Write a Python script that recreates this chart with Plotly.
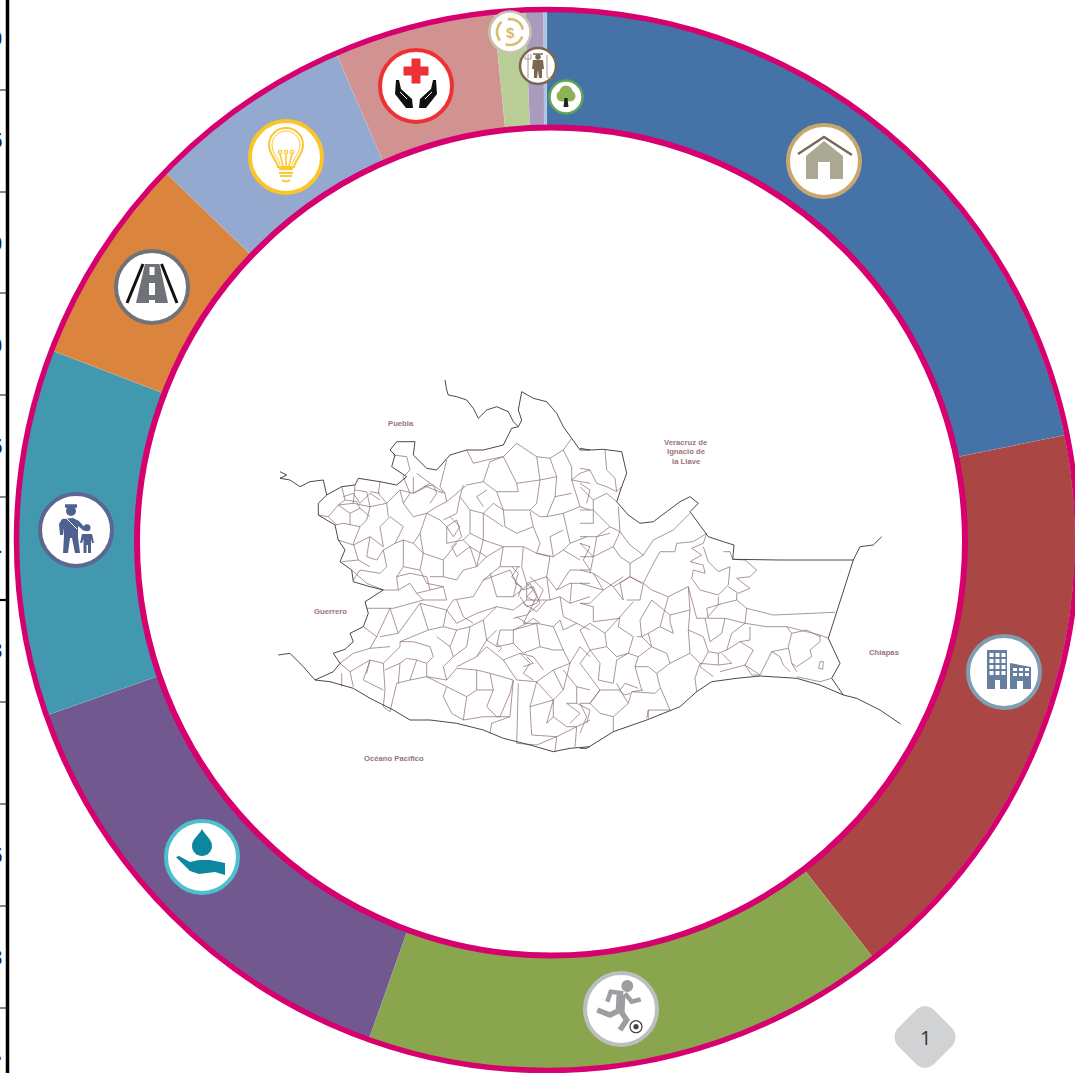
import re
import numpy as np
import plotly.graph_objects as go

W, H = 1075, 1073

# ---- donut data (share of the total)
categories = ["Vivienda", "Urbanización", "Deporte", "Agua", "Seguridad", "Caminos",
              "Electrificación", "Salud", "Economía", "Agricultura", "Medio ambiente"]
shares = [21.8, 17.6, 16.0, 14.2, 11.2, 6.4, 6.3, 4.9, 0.95, 0.55, 0.1]
colors = ["#4572A7", "#AA4643", "#89A54E", "#71588F", "#4198AF", "#DB843D",
          "#93A9CF", "#D19392", "#B9CD96", "#A99BBD", "#A9C4DE"]

# ---- left clipped axis
axis_tick_y = [90, 192, 293, 395, 497, 600, 702, 804, 906, 1008]
axis_label_y = [38, 140, 243, 345, 446, 548, 650, 855, 957, 1052]
axis_labels = ["0", "5", "0", "0", "5", "4", "3", "5", "3", "."]

# ---- map labels
map_label_text = ["Puebla", "Veracruz de", "Ignacio de", "la Llave", "Guerrero", "Chiapas", "Océano Pacífico"]
map_label_x = [401, 686, 686, 686, 330, 884, 394]
map_label_y = [423, 442, 451, 461, 611, 652, 758]

# ---- map outline (west half and east half)
west_border = [
 [(525,30),(530,60),(535,75),(560,80),(590,90),(610,115),(625,145),(650,120),(680,110),(715,125),(730,155),(745,170),(755,150),(745,120),(755,65),(790,85),(830,95),(860,130),(880,170),(905,205),(930,240),(960,240)],
 [(960,1130),(900,1135),(850,1145),(780,1125),(700,1105),(640,1080),(560,1060),(480,1050),(420,1050),(370,1020),(300,985),(250,955),(180,935),(135,930),(100,890),(60,850),(25,855)],
 [(135,930),(190,905),(210,880),(190,850),(225,838),(250,815),(240,790),(280,770),(295,730),(285,695),(340,660),(300,650),(250,635),(245,600),(210,575),(225,540),(205,510),(195,465),(145,435),(145,400),(170,375),(215,350),(255,345),(265,325),(330,335),(380,345),(410,320),(365,290),(375,255),(360,240),(380,215),(435,215),(430,255),(470,295),(500,300),(540,255),(590,240),(640,240),(700,225),(725,175),(745,170)],
 [(170,375),(160,330),(120,335),(90,350),(60,330),(30,325),(50,315),(30,305)],
]
east_border = [
 [(0,235),(30,240),(70,238),(125,245),(140,310),(125,350),(110,395),(145,435),(180,460),(220,455),(260,425),(300,395),(330,380),(355,400),(330,425),(385,500),(430,515),(462,525),(458,568),(600,570),(820,570),(840,530),(880,525),(905,500)],
 [(820,570),(745,805),(780,880),(755,925),(790,975),(830,985),(900,1020),(962,1062)],
 [(790,975),(720,945),(650,925),(540,918),(470,925),(395,935),(350,965),(300,1010),(200,1050),(100,1085),(60,1110),(20,1135),(0,1135)],
]
west_cells = [
 [(145,435),(175,440),(205,405),(250,400),(300,410),(350,400),(390,360),(430,370),(480,340),(525,370),(530,395),(590,345),(640,335),(680,365),(700,420),(780,420),(810,440)],
 [(400,470),(375,520),(340,540),(350,590),(330,610),(270,600),(250,630)],
 [(270,470),(250,520),(265,570)],
 [(205,510),(250,525),(300,500),(340,530)],
 [(375,520),(400,510),(430,520),(450,490),(470,430),(500,410),(530,395)],
 [(470,430),(510,450),(530,470),(530,520),(580,510),(600,490),(600,420),(570,380),(580,345)],
 [(600,420),(640,430),(670,400),(700,420)],
 [(700,420),(705,470),(740,490),(790,470),(780,425)],
 [(790,470),(810,520),(800,550),(850,560),(880,540),(900,520),(950,500)],
 [(860,320),(855,380),(830,440),(880,430),(930,410),(905,330),(930,310),(960,300)],
 [(590,240),(610,280),(650,270),(700,260),(740,220),(800,260),(840,265),(880,240),(905,205)],
 [(800,260),(810,330),(800,400),(780,420)],
 [(840,265),(860,320),(810,330),(740,340),(700,260),(660,275),(640,335)],
 [(740,340),(745,365),(680,365)],
 [(530,270),(520,310),(510,350),(525,370)],
 [(400,320),(420,370),(400,400),(430,440),(470,430)],
 [(300,410),(290,450),(270,470),(220,460),(195,465)],
 [(400,470),(360,440),(330,470),(340,530)],
 [(400,510),(400,590),(380,620),(385,660),(340,660)],
 [(450,490),(460,550),(450,600),(470,640),(520,650),(530,690),(460,690),(370,715),(290,715)],
 [(460,550),(520,570),(520,620),(560,630),(580,600),(620,590),(600,530)],
 [(580,510),(600,530),(650,560),(700,530),(760,530),(800,550),(840,560),(830,620),(860,660),(900,640),(960,640)],
 [(700,530),(690,590),(640,630),(610,680),(550,690),(530,720),(560,760),(620,730),(680,710)],
 [(760,530),(755,590),(770,640),(830,620)],
 [(650,560),(620,590)],
 [(360,715),(385,790),(450,700),(475,780),(390,815),(430,815),(480,830),(490,860),(470,880),(470,920),(530,930),(520,890),(550,860),(540,830),(500,800)],
 [(475,780),(520,770),(530,720)],
 [(280,770),(320,800),(300,835),(250,850),(210,880),(240,905),(300,870),(340,880),(390,830),(390,815)],
 [(300,835),(360,830)],
 [(340,880),(345,960),(340,1010),(360,1025),(380,940),(420,930),(470,920)],
 [(420,930),(440,870),(410,865),(390,880),(385,940)],
 [(215,910),(215,950)],
 [(470,920),(530,950),(520,980),(545,1030),(580,1050),(640,1040),(690,1040),(720,970),(730,930),(660,910),(620,900),(560,895),(530,930)],
 [(590,980),(620,960),(670,960),(650,1010),(680,1040)],
 [(560,890),(620,860),(650,830),(700,870),(720,900)],
 [(550,860),(590,830),(600,770),(640,750),(680,710)],
 [(600,770),(560,780),(540,830)],
 [(640,750),(650,810),(680,830),(730,820),(730,780),(800,760),(850,770),(870,750),(880,780),(920,760),(960,780)],
 [(680,710),(730,720),(770,690),(840,690),(870,680),(880,740)],
 [(720,900),(740,930),(800,935),(850,900),(900,880),(930,830),(960,860)],
 [(850,770),(880,840),(900,880)],
 [(730,930),(720,1040),(665,1060),(660,1090)],
 [(745,940),(740,1120),(800,1125),(860,1100),(855,1145)],
 [(800,935),(780,1010),(785,1095),(860,1100),(920,1070),(960,1050)],
 [(850,990),(850,1040),(890,1070),(920,1070),(915,1130)],
 [(880,960),(850,990),(830,1060)],
 [(920,1000),(960,1020),(950,1060)],
 [(880,900),(920,950),(960,960)],
 [(720,600),(740,640),(730,680),(780,640),(800,680),(780,720),(760,760),(800,760)],
 [(745,590),(725,620),(760,660),(790,650),(810,700),(770,735),(730,745)],
 [(750,680),(770,710),(800,700),(820,660),(780,620)],
 [(530,470),(560,450),(575,500),(545,530),(560,560)],
 [(930,520),(960,530),(940,570),(960,600),(900,600)],
 [(220,380),(250,370),(270,400),(300,370),(330,390)],
 [(480,400),(500,370),(490,345),(460,350)],
 [(650,360),(620,380),(640,410)],
 [(420,610),(470,620),(480,660),(440,670),(420,640)],
 [(560,690),(580,740),(610,760)],
 [(650,810),(620,860)],
 [(700,870),(750,850),(790,860),(820,900)],
 [(780,880),(760,910),(790,930)],
 [(890,1000),(930,1030),(900,1060)],
 [(215,350),(225,390),(205,405)],
 [(255,345),(250,400)],
 [(255,360),(290,365),(300,410)],
 [(330,335),(325,370),(350,400)],
 [(300,365),(330,370)],
 [(225,390),(260,395),(270,415),(240,430),(205,405)],
 [(175,440),(200,465)],
 [(240,430),(240,465)],
 [(270,415),(300,440)],
 [(350,400),(355,440)],
 [(390,360),(400,400)],
 [(430,370),(430,320)],
 [(430,370),(470,350),(520,370)],
 [(440,310),(480,340)],
 [(370,255),(410,260),(420,300),(400,320)],
 [(300,500),(290,560),(320,570),(340,540)],
 [(215,575),(265,570),(300,590)],
 [(245,600),(290,640),(340,660)],
 [(430,520),(460,550)],
 [(400,590),(450,600)],
 [(380,620),(420,610)],
 [(420,640),(385,660)],
 [(440,670),(460,690)],
 [(480,660),(520,650)],
 [(480,620),(520,620)],
 [(520,570),(560,520)],
 [(560,560),(600,530)],
 [(540,440),(570,470),(550,500),(530,470)],
 [(520,450),(560,430),(570,380)],
 [(600,490),(640,510),(700,530)],
 [(640,430),(640,510)],
 [(640,510),(620,590)],
 [(640,430),(700,470)],
 [(690,590),(750,590)],
 [(640,630),(720,600)],
 [(660,610),(680,680),(730,680)],
 [(905,330),(960,340)],
 [(880,240),(905,290),(905,330)],
 [(855,380),(905,370)],
 [(930,410),(960,420)],
 [(880,430),(900,520)],
 [(810,440),(830,440)],
 [(850,560),(840,500),(880,480)],
 [(880,540),(930,570)],
 [(900,600),(860,660)],
 [(905,640),(900,700),(870,680)],
 [(900,700),(960,680)],
 [(830,620),(840,690)],
 [(770,640),(770,690)],
 [(880,740),(920,760)],
 [(800,760),(810,830),(850,840),(880,840)],
 [(730,820),(760,850),(810,830)],
 [(730,780),(770,760)],
 [(680,830),(690,780),(730,780)],
 [(650,810),(680,780)],
 [(750,850),(780,880)],
 [(850,900),(880,960)],
 [(780,1010),(850,990)],
 [(800,935),(850,990)],
 [(900,880),(880,960)],
 [(920,950),(920,1000)],
 [(920,1000),(890,1000)],
 [(830,1060),(850,1040)],
 [(680,1040),(720,1040)],
 [(620,900),(620,960)],
 [(660,910),(670,960)],
 [(530,950),(590,980),(580,1050)],
 [(390,880),(345,900)],
 [(470,880),(440,870)],
 [(300,870),(280,930),(340,960)],
 [(240,905),(250,950)],
 [(300,870),(290,910)],
 [(385,790),(330,800)],
 [(320,800),(360,715)],
 [(520,770),(560,780)],
 [(450,700),(530,720)],
 [(725,590),(745,610),(735,640),(755,650),(745,680)],
 [(770,640),(790,660),(770,680),(795,695)],
 [(740,740),(770,760),(790,745),(810,760)],
 [(760,700),(800,725)],
 [(830,690),(800,725)],
 [(680,820),(695,835),(685,845)],
 [(770,860),(790,880),(760,890)],
]
east_cells = [
 [(0,295),(30,300),(50,340),(80,350),(110,365),(125,350)],
 [(75,240),(80,300),(105,325),(110,365)],
 [(110,395),(80,370),(40,390),(40,420),(0,420)],
 [(40,420),(90,470),(120,485),(115,410)],
 [(90,490),(50,500),(0,500)],
 [(120,485),(150,525),(190,555),(220,510),(280,480),(330,430)],
 [(190,555),(150,580),(150,620),(190,640),(215,590),(240,545),(285,545),(290,520),(340,515),(380,490)],
 [(380,490),(370,520),(335,535),(365,555),(330,575),(370,585),(375,610),(340,600),(335,625),(360,660),(415,675),(445,645),(450,590),(415,605),(385,575),(370,530)],
 [(430,545),(450,545),(458,568),(495,570),(530,600),(510,620),(470,625),(510,655),(475,670),(445,650)],
 [(470,690),(500,715),(580,735),(765,727)],
 [(415,680),(415,705),(380,745),(350,745),(325,650),(285,670),(265,680),(215,660),(190,640),(180,690),(140,690)],
 [(470,670),(470,690),(430,700),(380,715),(385,745),(435,745),(425,790),(390,815),(375,745)],
 [(500,715),(495,760),(455,790),(440,840),(415,850),(415,885),(455,880),(425,850)],
 [(495,760),(560,770),(620,770),(720,795),(745,805)],
 [(620,770),(635,790),(625,830),(635,880),(650,905)],
 [(720,795),(720,815),(690,840),(695,860),(650,890)],
 [(635,790),(680,780),(720,800)],
 [(510,770),(510,810),(480,815),(505,830),(520,840),(495,885),(515,915),(540,915),(575,845),(625,835)],
 [(575,845),(600,860),(610,885),(630,905)],
 [(720,875),(730,875),(728,898),(716,895),(720,875)],
 [(755,925),(720,935),(650,920)],
 [(400,920),(380,905),(360,890),(385,845),(370,800),(325,780),(330,720),(270,735),(270,755),(280,790),(240,770),(205,790),(185,800),(215,830),(260,850),(270,880),(230,910),(240,950),(270,1020),(205,1020),(200,1045)],
 [(330,850),(270,880)],
 [(325,780),(330,850),(360,880),(345,925),(350,965)],
 [(240,955),(225,970),(155,965),(145,1000),(100,1040),(100,1085)],
 [(145,1000),(120,960),(135,940),(175,955)],
 [(120,740),(75,790),(30,760),(0,780)],
 [(120,740),(160,695)],
 [(120,740),(115,770),(160,800),(145,850),(175,860),(165,890),(185,960)],
 [(75,790),(80,830),(110,860),(145,850)],
 [(40,710),(40,755),(120,745)],
 [(40,710),(0,700)],
 [(170,800),(185,800),(180,750),(215,690)],
 [(60,880),(55,930),(100,940),(110,870)],
 [(0,600),(40,610),(70,660),(30,700)],
 [(0,520),(40,560),(100,530),(120,560),(150,580)],
 [(70,660),(130,620)],
 [(130,690),(100,650)],
 [(0,880),(30,920),(60,960),(30,1000),(60,1030)],
 [(0,1000),(20,1040),(0,1090)],
 [(115,960),(135,975),(150,970)],
 [(0,340),(30,360),(20,400)],
 [(40,560),(30,610)],
 [(150,620),(120,640),(130,690)],
 [(0,350),(40,390)],
 [(0,460),(40,460),(40,420)],
 [(50,500),(40,560)],
 [(100,530),(120,485)],
 [(0,560),(40,560)],
 [(90,470),(50,500)],
 [(0,640),(70,660)],
 [(40,610),(100,650)],
 [(0,700),(30,700)],
 [(0,780),(30,840),(0,880)],
 [(30,840),(80,830)],
 [(60,880),(30,840)],
 [(110,870),(145,850)],
 [(110,940),(120,960)],
 [(60,960),(115,960)],
 [(60,1030),(100,1040)],
 [(30,1000),(60,960)],
 [(0,1000),(30,1000)],
 [(175,860),(215,830)],
 [(165,890),(205,890),(230,910)],
 [(205,790),(215,830)],
 [(240,770),(265,680)],
 [(330,720),(325,650)],
 [(270,735),(215,690)],
 [(205,1020),(205,1045)],
 [(155,965),(190,960)],
 [(150,620),(100,650)],
 [(185,640),(150,620)],
 [(360,880),(415,885)],
 [(415,850),(385,845)],
 [(440,840),(480,815)],
 [(435,745),(495,760)],
 [(540,915),(495,885)],
 [(420,905),(495,885)],
 [(650,890),(635,880)],
]
west_origin = (270, 370)
east_origin = (580, 370)
zoom_factor = 3

shapes = []
annotations = []


def map_path(groups):
    parts = []
    for lines, (ox, oy) in groups:
        for line in lines:
            pts = [f"{ox + a / zoom_factor:.1f},{oy + b / zoom_factor:.1f}" for a, b in line]
            parts.append("M" + " L".join(pts))
    return " ".join(parts)


def add_path(path, fill=None, line=None, lw=0):
    shapes.append(dict(type="path", xref="x", yref="y", path=path, layer="above",
                       fillcolor=fill or "rgba(0,0,0,0)",
                       line=dict(color=line or "rgba(0,0,0,0)", width=lw)))


def add_circle(cx, cy, r, fill=None, line=None, lw=0, ry=None):
    ry = ry or r
    shapes.append(dict(type="circle", xref="x", yref="y", layer="above",
                       x0=cx - r, x1=cx + r, y0=cy - ry, y1=cy + ry,
                       fillcolor=fill or "rgba(0,0,0,0)",
                       line=dict(color=line or "rgba(0,0,0,0)", width=lw)))


def at(cx, cy, d):
    def shift(m):
        return f"{float(m.group(1)) + cx:.1f},{float(m.group(2)) + cy:.1f}"
    return re.sub(r"(-?\d+\.?\d*),(-?\d+\.?\d*)", shift, d)


def glyph(cx, cy, d, fill=None, line=None, lw=0):
    add_path(at(cx, cy, d), fill, line, lw)


# ---- rings
add_circle(551, 541.5, 414, fill="white", line="#D6006F", lw=6)
add_circle(547, 540, 530.5, line="#D6006F", lw=5.5)

# ---- map
add_path(map_path([(west_cells, west_origin), (east_cells, east_origin)]), line="#87686C", lw=0.7)
add_path(map_path([(west_border, west_origin), (east_border, east_origin)]), line="#3B3133", lw=0.9)
for t, x, y in zip(map_label_text, map_label_x, map_label_y):
    annotations.append(dict(x=x, y=y, xref="x", yref="y", text=f"<b>{t}</b>", showarrow=False,
                            font=dict(family="Liberation Sans", size=7.7, color="#9A7476")))

# ---- left axis
add_path("M7.5,0 L7.5,1073", line="#000000", lw=3.5)
add_path(" ".join(f"M0,{y} L8,{y}" for y in axis_tick_y), line="#111111", lw=1.2)
add_path("M0,600 L8,600", line="#000000", lw=2.2)
for t, y in zip(axis_labels, axis_label_y):
    annotations.append(dict(x=4, y=y, xref="x", yref="y", xanchor="right", text=f"<b>{t}</b>",
                            showarrow=False, font=dict(family="Liberation Sans", size=22, color="#16264A")))

# ---- badge
glyph(925, 1037, "M-8,-28 Q0,-34 8,-28 L28,-8 Q33,0 28,8 L8,28 Q0,34 -8,28 L-28,8 Q-33,0 -28,-8 Z", fill="#D1D2D4")
annotations.append(dict(x=925, y=1037, xref="x", yref="y", text="1", showarrow=False,
                        font=dict(family="Open Sans", size=20, color="#333333")))

# ---- icon badges
badge_centers = {"house": (824, 161), "building": (1004, 672), "runner": (621, 1009), "water": (202, 857),
                 "police": (76, 530), "road": (152, 287), "bulb": (286, 157), "health": (416, 86),
                 "dollar": (510, 32), "farmer": (538, 66), "tree": (566, 97)}
badge_radius = {"dollar": 20.5, "farmer": 18, "tree": 16.5}
badge_line = {"house": "#C8A76A", "building": "#7F9DB0", "runner": "#BDBEC0", "water": "#4DC0CE",
              "police": "#5B6791", "road": "#6F7378", "bulb": "#FCC424", "health": "#EE3135",
              "dollar": "#C6C4AE", "farmer": "#7B6650", "tree": "#5CA45B"}
for k, (cx, cy) in badge_centers.items():
    r = badge_radius.get(k, 36)
    add_circle(cx, cy, r, fill="white", line=badge_line[k], lw=4 if k not in badge_radius else 2.5)

# house
c = badge_centers["house"]
glyph(*c, "M-18,-5 L0,-20 L19,-5 L19,18 L6,18 L6,1 L-6,1 L-6,18 L-18,18 Z", fill="#ABA994")
glyph(*c, "M-26,-7 L0,-24 L28,-6", line="#7B6A56", lw=2.5)

# building
c = badge_centers["building"]
bc = "#667E9F"
glyph(*c, "M-17,-22 L3,-22 L3,17 L-17,17 Z", fill=bc)
glyph(*c, "M6,-9 L27,-5 L27,17 L6,17 Z", fill=bc)
for col in (-14.5, -8.5, -2.5):
    for row in (-19, -13, -7, -1):
        glyph(*c, f"M{col},{row} L{col+4},{row} L{col+4},{row+4} L{col},{row+4} Z", fill="white")
for col in (9, 15, 21):
    for row in (0, -5):
        glyph(*c, f"M{col},{row+1} L{col+4},{row+1} L{col+4},{row+4} L{col},{row+4} Z", fill="white")
glyph(*c, "M-9,8 L-4,8 L-4,17 L-9,17 Z", fill="white")
glyph(*c, "M13,9 L19,9 L19,17 L13,17 Z", fill="white")

# runner
c = badge_centers["runner"]
rc = "#9C9EA1"
add_circle(c[0] + 6.3, c[1] - 23, 6, fill=rc)
glyph(*c, "M0,-14 L-1,4", line=rc, lw=9)
glyph(*c, "M2.3,-15.7 L-10.3,-17.3 L-13.7,-7.3", line=rc, lw=4.5)
glyph(*c, "M4,-15.7 L10.7,-7.3 L19.7,-9.7", line=rc, lw=4.5)
glyph(*c, "M-1,1 L-11,6 L-23.7,1", line=rc, lw=5.5)
glyph(*c, "M-1,1 L5.7,11 L-1,21", line=rc, lw=5.5)
add_circle(c[0] + 15, c[1] + 17.7, 6, fill="white", line="#444444", lw=1.3)
add_circle(c[0] + 15, c[1] + 17.7, 2.6, fill="#444444")

# water
c = badge_centers["water"]
wc = "#0B879F"
glyph(*c, "M0,-28 C3,-22 10,-18 10,-11 C10,-5 5,-1 0,-1 C-5,-1 -10,-5 -10,-11 C-10,-18 -3,-22 0,-28 Z", fill=wc)
glyph(*c, "M-26,0 L-23,-1 L-12,5 L-3,3 L8,3 L23,6 L23,18 L13,15 L-3,17 L-12,14 Z", fill=wc)

# police
c = badge_centers["police"]
pc = "#4F628F"
add_circle(c[0] - 5, c[1] - 19, 5, fill=pc)
glyph(*c, "M-11,-24 L1,-24", line=pc, lw=3.5)
glyph(*c, "M-14,-11 L-3,-12 L3,-9 L10,-1 L8,1 L2,-4 L2,7 L4,23 L-1,23 L-4,8 L-6,8 L-8,23 L-13,23 L-12,6 L-12,-2 L-13,5 L-16,5 L-17,-6 Z", fill=pc)
glyph(*c, "M-10,-12 L1,-1", line="white", lw=1)
add_circle(c[0] + 11, c[1] - 2.3, 3.5, fill=pc)
glyph(*c, "M6,4 L16,4 L18,13 L16,13 L15,9 L15,23 L12,23 L12,15 L10.5,15 L10.5,23 L7.5,23 L7.5,9 L6,13 L4,13 Z", fill=pc)

# road
c = badge_centers["road"]
glyph(*c, "M-7,-23 L7.5,-23 L16,16 L-16,16 Z", fill="#6F7378")
glyph(*c, "M-9,-23 L-25,16", line="#111111", lw=3)
glyph(*c, "M9.5,-23 L25,16", line="#111111", lw=3)
glyph(*c, "M-2.5,-20 L2.5,-20 L2.5,-12 L-2.5,-12 Z", fill="white")
glyph(*c, "M-3,-4 L3,-4 L3,8 L-3,8 Z", fill="white")
glyph(*c, "M-3,13 L3,13 L3,16 L-3,16 Z", fill="white")

# bulb
c = badge_centers["bulb"]
yc = "#FDC72E"
glyph(*c, "M-8,10 C-9,3 -17,-2 -17,-12 C-17,-22 -9,-29 0,-29 C9,-29 17,-22 17,-12 C17,-2 9,3 8,10 Z", line=yc, lw=2)
glyph(*c, "M-6,8 C-7,1 -14,-3 -14,-12 C-14,-20 -7,-26 0,-26 C7,-26 14,-20 14,-12 C14,-3 7,1 6,8", line=yc, lw=1)
glyph(*c, "M-6,-3 L-3,9 M0,-4 L0,9 M6,-3 L3,9", line=yc, lw=1.6)
for dx in (-6, 0, 6):
    add_circle(c[0] + dx, c[1] - 5, 1.7, line=yc, lw=1.2)
glyph(*c, "M-7,12 L7,12 M-7,16 L7,16 M-6,19 L6,19 M-4,23 Q0,26 4,23", line=yc, lw=2)

# health
c = badge_centers["health"]
glyph(*c, "M-4.5,-27.5 L4.5,-27.5 L4.5,-19.5 L12.5,-19.5 L12.5,-10.5 L4.5,-10.5 L4.5,-2.5 L-4.5,-2.5 L-4.5,-10.5 L-12.5,-10.5 L-12.5,-19.5 L-4.5,-19.5 Z",
      fill="#EE3135")
glyph(*c, "M-20,-6 L-17,-6 L-15,3 L-4,13 L-3,22 L-10,22 L-21,8 Z", fill="#111111")
glyph(*c, "M20,-6 L17,-6 L15,3 L4,13 L3,22 L10,22 L21,8 Z", fill="#111111")
glyph(*c, "M-16,6 L-9,13", line="white", lw=1)
glyph(*c, "M16,6 L9,13", line="white", lw=1)

# dollar
c = badge_centers["dollar"]
for start in (20, 140, 260):
    ang = np.radians(np.arange(start, start + 95, 10))
    pts = [f"{13 * np.cos(t):.1f},{13 * np.sin(t):.1f}" for t in ang]
    glyph(*c, "M" + " L".join(pts), line="#D9BD6A", lw=2.6)
annotations.append(dict(x=c[0], y=c[1], xref="x", yref="y", text="<b>$</b>", showarrow=False,
                        font=dict(family="Liberation Sans", size=15, color="#D9BD6A")))

# farmer
c = badge_centers["farmer"]
fc = "#7B6650"
add_circle(c[0], c[1] - 9, 2.8, fill=fc)
glyph(*c, "M-5,-12 L5,-12", line=fc, lw=1.5)
glyph(*c, "M-5,-6 L5,-6 L6,3 L4,3 L4,12 L1,12 L0,4 L-1,12 L-4,12 L-4,3 L-6,3 Z", fill=fc)
glyph(*c, "M-10,-12 L-10,12 M-13,-12 L-13,-7 L-7,-7 L-7,-12", line="#A89A86", lw=1)
glyph(*c, "M9,-11 L9,11 L13,13", line="#A89A86", lw=1)

# tree
c = badge_centers["tree"]
add_circle(c[0] - 4, c[1] - 1, 5.5, fill="#8DB255")
add_circle(c[0] + 4, c[1] - 1, 5.5, fill="#8DB255")
add_circle(c[0], c[1] - 5, 6.5, fill="#8DB255")
glyph(*c, "M-1.5,1 L1.5,1 L2.5,10 L-2.5,10 Z", fill="#222222")

fig = go.Figure()
fig.add_trace(go.Scatter(x=[0, W], y=[H, 0], mode="markers", marker=dict(opacity=0, size=1),
                         hoverinfo="skip", showlegend=False))
fig.add_trace(go.Pie(labels=categories, values=shares, sort=False, direction="clockwise",
                     rotation=0.1, hole=0.6, textinfo="none", showlegend=False,
                     marker=dict(colors=colors, line=dict(color="rgba(255,255,255,0.12)", width=0.6)),
                     domain=dict(x=[17 / W, 1], y=[1 - 1069 / H, 1 - 11 / H])))
fig.update_layout(width=W, height=H, margin=dict(l=0, r=0, t=0, b=0), autosize=False,
                  paper_bgcolor="white", plot_bgcolor="white", showlegend=False,
                  xaxis=dict(visible=False, range=[0, W], fixedrange=True),
                  yaxis=dict(visible=False, range=[H, 0], fixedrange=True),
                  shapes=shapes, annotations=annotations)
fig.write_html("out.html", config=dict(displayModeBar=False),
               post_script="document.body.style.margin='0';document.body.style.overflow='hidden';")
